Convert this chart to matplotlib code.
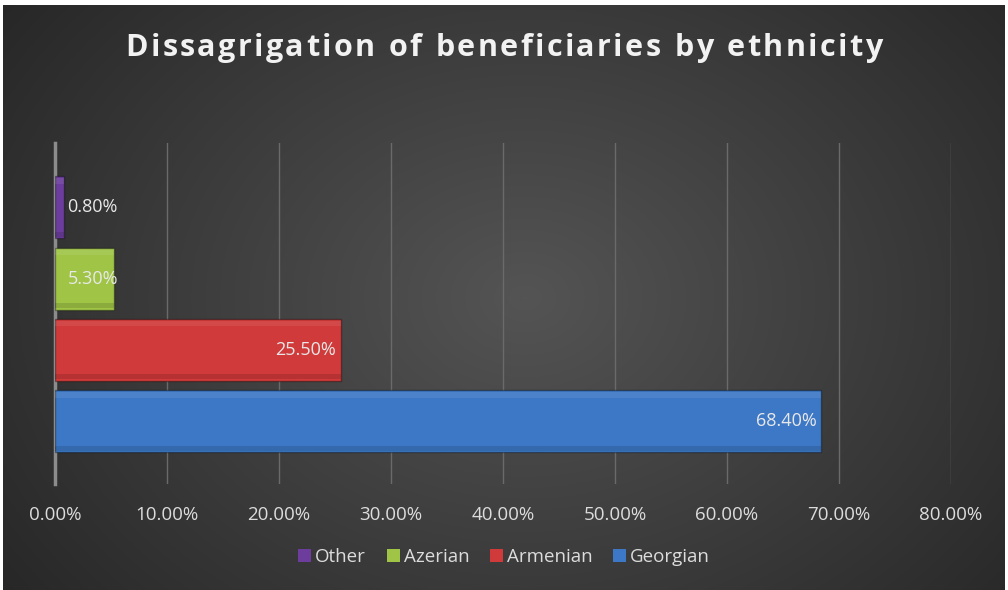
import numpy as np
import matplotlib.pyplot as plt
from matplotlib.patches import Patch

categories = ['Georgian', 'Armenian', 'Azerian', 'Other']
values = [68.4, 25.5, 5.3, 0.8]
colors = ['#3d78c6', '#d03a3a', '#9fc446', '#6c3d9c']
xticks = [0, 10, 20, 30, 40, 50, 60, 70, 80]
title = 'Dissagrigation of beneficiaries by ethnicity'

fig = plt.figure(figsize=(10.08, 5.9), dpi=100, facecolor='white')

# background with radial gradient
bg = fig.add_axes([0.003, 0.0, 0.994, 0.992])
yy, xx = np.mgrid[0:300, 0:500]
r = np.sqrt(((xx - 260) / 330.0) ** 2 + ((yy - 150) / 260.0) ** 2)
grad = np.clip(1 - r, 0, 1)
shade = 0.15 + 0.18 * grad
img = np.dstack([shade, shade, shade])
bg.imshow(img, aspect='auto', extent=[0, 1, 0, 1])
bg.axis('off')

ax = fig.add_axes([55 / 1008, 1 - 484 / 590, (951 - 55) / 1008, (484 - 143) / 590])
ax.patch.set_alpha(0)

ypos = np.arange(len(categories))
ax.barh(ypos, values, height=0.87, color=colors, edgecolor=(0, 0, 0, 0.35), linewidth=1.0, zorder=3)
# soft highlight / shade on bars
ax.barh(ypos + 0.37, values, height=0.08, color='white', alpha=0.08, linewidth=0, zorder=4)
ax.barh(ypos - 0.38, values, height=0.07, color='black', alpha=0.12, linewidth=0, zorder=4)

for y, v in zip(ypos, values):
    lbl = f'{v:.2f}%'
    if v > 10:
        ax.text(v - 0.4, y, lbl, ha='right', va='center', color='#e8e8e8', fontsize=13,
                family='Open Sans', zorder=5)
    else:
        ax.text(1.1, y, lbl, ha='left', va='center', color='#e8e8e8', fontsize=13,
                family='Open Sans', zorder=5)

ax.set_xlim(0, 80)
ax.set_ylim(-0.88, 3.9)
ax.set_xticks(xticks)
ax.set_xticklabels([f'{t:.2f}%' for t in xticks], color='#dcdcdc', fontsize=13.5, family='Open Sans')
ax.set_yticks([])
ax.tick_params(axis='x', length=0, pad=16)
ax.grid(axis='x', color='#6a6a6a', linewidth=1, zorder=0)
for s in ['top', 'right', 'bottom']:
    ax.spines[s].set_visible(False)
ax.spines['left'].set_color('#8c8c8c')
ax.spines['left'].set_linewidth(2.5)

# title with letter spacing, placed char by char
renderer = fig.canvas.get_renderer()
tprops = dict(color='#f2f2f2', fontsize=22, fontweight='bold', family='Open Sans', va='center')
spacing = 2.4
widths = []
for ch in title:
    t = fig.text(0, 0, ch if ch != ' ' else 'n', **tprops)
    w = t.get_window_extent(renderer).width
    if ch == ' ':
        w *= 0.45
    widths.append(w)
    t.remove()
total = sum(widths) + spacing * (len(title) - 1)
x = (1008 - total) / 2
ty = 1 - 48 / 590
for ch, w in zip(title, widths):
    if ch != ' ':
        fig.text(x / 1008, ty, ch, ha='left', **tprops)
    x += w + spacing

order = [3, 2, 1, 0]
handles = [Patch(facecolor=colors[i], edgecolor='none', label=categories[i]) for i in order]
leg = fig.legend(handles=handles, loc='center', bbox_to_anchor=(0.5, 1 - 557 / 590), ncol=4,
                 frameon=False, handlelength=0.7, handleheight=0.7,
                 handletextpad=0.2, columnspacing=1.1, prop={'family': 'Open Sans', 'size': 13.5})
for t in leg.get_texts():
    t.set_color('#dcdcdc')

fig.savefig('out.png', dpi=100, facecolor='white')
